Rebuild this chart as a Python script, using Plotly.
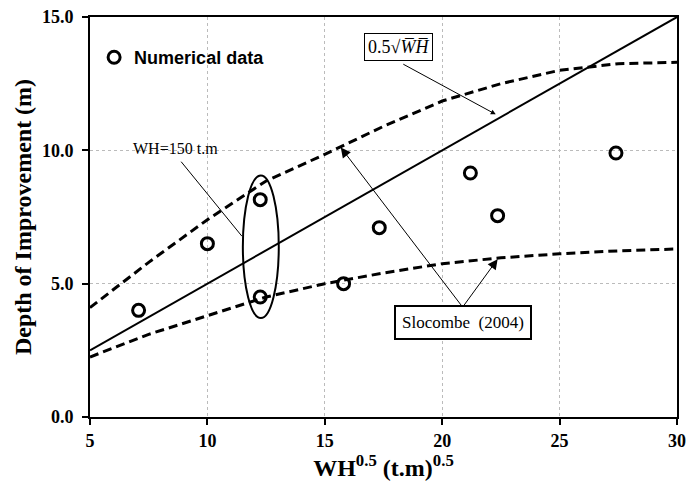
import plotly.graph_objects as go

# Numerical data points
num_x = [7.07, 10.0, 12.25, 12.25, 15.8, 17.32, 21.2, 22.36, 27.4]
num_y = [4.0, 6.5, 8.15, 4.5, 5.0, 7.1, 9.15, 7.55, 9.9]

# 0.5*sqrt(WH) line
line_x = [5, 10, 15, 20, 25, 30]
line_y = [2.5, 5.0, 7.5, 10.0, 12.5, 15.0]

# Slocombe (2004) bounds
bound_x = [5, 7.5, 10, 12.5, 15, 17.5, 20, 22.5, 25, 27.5, 30]
upper_y = [4.1, 5.8, 7.4, 8.85, 9.85, 10.9, 11.85, 12.5, 13.0, 13.25, 13.3]
lower_y = [2.25, 3.1, 3.8, 4.5, 5.0, 5.4, 5.75, 5.97, 6.12, 6.23, 6.3]

x_ticks = [5, 10, 15, 20, 25, 30]
y_ticks = [0, 5, 10, 15]

SERIF = "Liberation Serif"
SANS = "Liberation Sans"

fig = go.Figure()
fig.add_trace(go.Scatter(x=bound_x, y=upper_y, mode="lines",
                         line=dict(color="black", width=3, dash="9px,5px"), showlegend=False))
fig.add_trace(go.Scatter(x=bound_x, y=lower_y, mode="lines",
                         line=dict(color="black", width=3, dash="9px,5px"), showlegend=False))
fig.add_trace(go.Scatter(x=line_x, y=line_y, mode="lines",
                         line=dict(color="black", width=2), showlegend=False))
fig.add_trace(go.Scatter(x=num_x, y=num_y, mode="markers", name="Numerical data",
                         marker=dict(symbol="circle-open", size=12, color="black",
                                     line=dict(width=3, color="black"))))

# Ellipse around WH=150 points
fig.add_shape(type="circle", xref="x", yref="y", x0=11.51, x1=13.04, y0=3.71, y1=9.06,
              line=dict(color="black", width=2))

ann = []
# Text labels
ann.append(dict(x=8.66, y=10.07, xref="x", yref="y", text="WH=150 t.m", showarrow=False,
                font=dict(family=SERIF, size=16, color="black")))
ann.append(dict(x=18.15, y=13.86, xref="x", yref="y", text="0.5\u221a<i>W\u0305H\u0305</i>",
                showarrow=False, font=dict(family=SERIF, size=18, color="black"),
                bordercolor="black", borderwidth=1, borderpad=3, bgcolor="white"))
ann.append(dict(x=20.87, y=3.56, xref="x", yref="y", text="Slocombe  (2004)",
                showarrow=False, font=dict(family=SERIF, size=17, color="black"),
                bordercolor="black", borderwidth=2, borderpad=6, bgcolor="white"))
# Arrows / leader lines
ann.append(dict(x=22.28, y=11.35, ax=18.28, ay=13.26, xref="x", yref="y", axref="x", ayref="y",
                text="", showarrow=True, arrowhead=2, arrowsize=1, arrowwidth=1, arrowcolor="black"))
ann.append(dict(x=15.68, y=10.11, ax=20.87, ay=4.12, xref="x", yref="y", axref="x", ayref="y",
                text="", showarrow=True, arrowhead=2, arrowsize=2, arrowwidth=1, arrowcolor="black"))
ann.append(dict(x=22.36, y=5.92, ax=20.87, ay=4.12, xref="x", yref="y", axref="x", ayref="y",
                text="", showarrow=True, arrowhead=2, arrowsize=2, arrowwidth=1, arrowcolor="black"))
ann.append(dict(x=11.47, y=6.78, ax=8.83, ay=9.63, xref="x", yref="y", axref="x", ayref="y",
                text="", showarrow=True, arrowhead=0, arrowwidth=1, arrowcolor="black"))

fig.update_layout(
    width=686, height=487,
    margin=dict(l=90, r=9, t=17, b=70),
    paper_bgcolor="white", plot_bgcolor="white",
    annotations=ann,
    showlegend=True,
    legend=dict(x=0.007, y=0.945, xanchor="left", yanchor="top", bgcolor="rgba(0,0,0,0)",
                font=dict(family=SANS, size=18, color="black", weight="bold"),
                itemwidth=30),
    xaxis=dict(range=[5, 30], tickvals=x_ticks, ticktext=[str(v) for v in x_ticks],
               automargin=False,
               showline=True, linecolor="black", linewidth=2, mirror=True,
               ticks="outside", ticklen=6, tickwidth=1.5, tickcolor="black",
               showgrid=True, gridcolor="#bbbbbb", griddash="dot", gridwidth=1,
               zeroline=False,
               tickfont=dict(family=SERIF, size=18, color="black", weight="bold"),
               title=dict(text="WH<sup>0.5</sup> (t.m)<sup>0.5</sup>", standoff=4,
                          font=dict(family=SERIF, size=24, color="black", weight="bold"))),
    yaxis=dict(range=[0, 15], tickvals=y_ticks, ticktext=["%.1f" % v for v in y_ticks],
               automargin=False, ticklabelstandoff=5,
               showline=True, linecolor="black", linewidth=2, mirror=True,
               ticks="outside", ticklen=6, tickwidth=1.5, tickcolor="black",
               showgrid=True, gridcolor="#bbbbbb", griddash="dot", gridwidth=1,
               zeroline=False,
               tickfont=dict(family=SERIF, size=18, color="black", weight="bold"),
               title=dict(text="Depth of Improvement (m)", standoff=4,
                          font=dict(family=SERIF, size=24, color="black", weight="bold"))),
)

fig.write_html("out.html", config={"displayModeBar": False},
               post_script="document.body.style.margin='0';document.body.style.overflow='hidden';")
